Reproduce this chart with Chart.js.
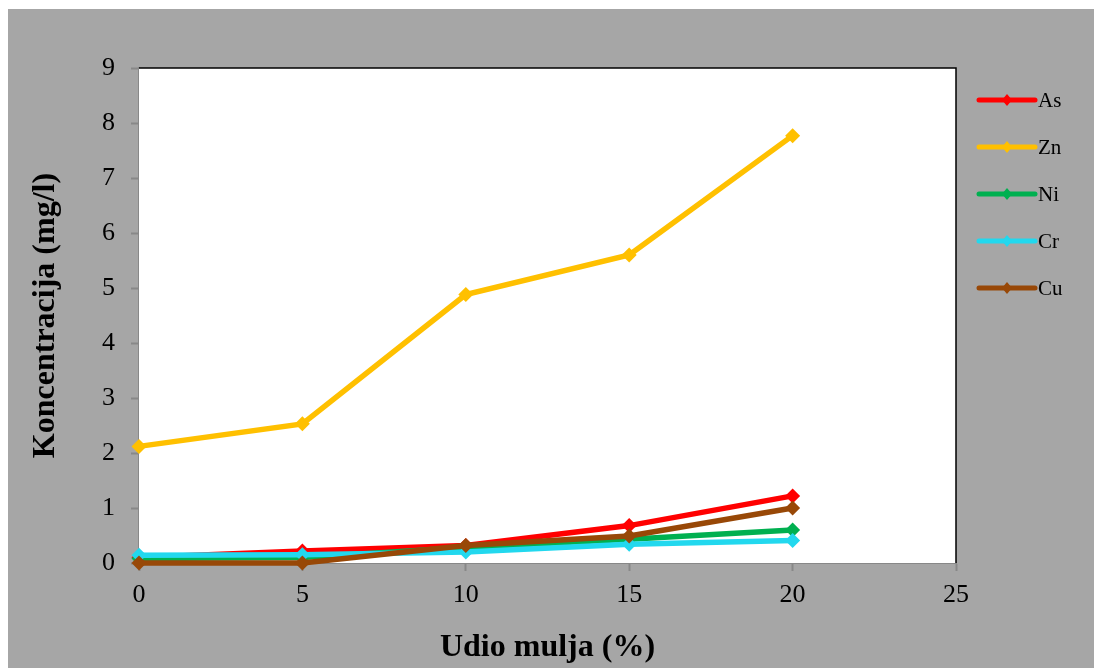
<!DOCTYPE html>
<html>
<head>
<meta charset="utf-8">
<script src="https://cdn.jsdelivr.net/npm/chart.js@4.4.0/dist/chart.umd.min.js"></script>
<style>
  html, body { margin: 0; padding: 0; background: #ffffff; }
  #wrap { position: absolute; left: 8px; top: 9px; width: 1086px; height: 659px; background: #a6a6a6; }
</style>
</head>
<body>
<div id="wrap"><canvas id="chart" width="1086" height="659"></canvas></div>
<script>
// udio mulja (%)
const udio = [0, 5, 10, 15, 20];

// koncentracije (mg/l)
const asVals = [0.10, 0.22, 0.32, 0.68, 1.22];
const znVals = [2.12, 2.53, 4.88, 5.60, 7.77];
const niVals = [0.08, 0.10, 0.28, 0.43, 0.60];
const crVals = [0.14, 0.15, 0.20, 0.34, 0.41];
const cuVals = [0.00, 0.00, 0.32, 0.49, 1.00];

const seriesNames = ['As', 'Zn', 'Ni', 'Cr', 'Cu'];
const seriesColors = ['#ff0000', '#ffc000', '#00b050', '#22d8ee', '#984807'];
const seriesValues = [asVals, znVals, niVals, crVals, cuVals];

const FONT = "'Liberation Serif', 'Times New Roman', serif";

function toPoints(vals) {
    return vals.map((v, i) => ({ x: udio[i], y: v }));
}

const datasets = seriesNames.map((name, i) => ({
    label: name,
    data: toPoints(seriesValues[i]),
    borderColor: seriesColors[i],
    backgroundColor: seriesColors[i],
    borderWidth: 5.5,
    pointStyle: 'rectRot',
    pointRadius: 7.5,
    pointBorderWidth: 0,
    tension: 0,
    clip: false,
    // kasnije serije crtaju se preko ranijih
    order: seriesNames.length - i
}));

// bijela pozadina i okvir područja grafikona (gore i desno crno)
const plotFrame = {
    id: 'plotFrame',
    beforeDatasetsDraw(chart) {
        const { ctx, chartArea: a } = chart;
        ctx.save();
        ctx.fillStyle = '#ffffff';
        ctx.fillRect(a.left, a.top, a.right - a.left, a.bottom - a.top);
        ctx.strokeStyle = '#000000';
        ctx.lineWidth = 1.5;
        ctx.beginPath();
        ctx.moveTo(a.left, a.top);
        ctx.lineTo(a.right, a.top);
        ctx.lineTo(a.right, a.bottom);
        ctx.stroke();
        ctx.restore();
    }
};

// legenda desno, linija s rombom
const sideLegend = {
    id: 'sideLegend',
    afterDraw(chart) {
        const { ctx } = chart;
        const x0 = 971, x1 = 1027, xm = 999, tx = 1030;
        ctx.save();
        chart.data.datasets.forEach((ds, i) => {
            const y = 91 + i * 47;
            ctx.strokeStyle = ds.borderColor;
            ctx.lineWidth = 5;
            ctx.lineCap = 'round';
            ctx.beginPath();
            ctx.moveTo(x0, y);
            ctx.lineTo(x1, y);
            ctx.stroke();
            ctx.fillStyle = ds.borderColor;
            ctx.beginPath();
            ctx.moveTo(xm, y - 6);
            ctx.lineTo(xm + 5, y);
            ctx.lineTo(xm, y + 6);
            ctx.lineTo(xm - 5, y);
            ctx.closePath();
            ctx.fill();
            ctx.fillStyle = '#000000';
            ctx.font = '21px ' + FONT;
            ctx.textAlign = 'left';
            ctx.textBaseline = 'middle';
            ctx.fillText(ds.label, tx, y + 1);
        });
        ctx.restore();
    }
};

new Chart(document.getElementById('chart'), {
    type: 'line',
    data: { datasets: datasets },
    options: {
        responsive: false,
        animation: false,
        layout: { padding: { left: 0, top: 59, right: 138, bottom: 0 } },
        plugins: {
            legend: { display: false },
            tooltip: { enabled: false }
        },
        scales: {
            x: {
                type: 'linear',
                min: 0,
                max: 25,
                afterFit(scale) { scale.height = 105; },
                ticks: {
                    stepSize: 5,
                    color: '#000000',
                    padding: 9,
                    font: { family: FONT, size: 26 }
                },
                grid: {
                    display: true,
                    drawOnChartArea: false,
                    drawTicks: true,
                    tickLength: 8,
                    tickColor: '#888888',
                    tickWidth: 2
                },
                border: { color: '#888888', width: 2 },
                title: {
                    display: true,
                    text: 'Udio mulja (%)',
                    color: '#000000',
                    padding: { top: 0, bottom: 1 },
                    font: { family: FONT, size: 32, weight: 'bold' }
                }
            },
            y: {
                type: 'linear',
                min: 0,
                max: 9,
                afterFit(scale) { scale.width = 131; },
                ticks: {
                    stepSize: 1,
                    color: '#000000',
                    padding: 16,
                    font: { family: FONT, size: 26 }
                },
                grid: {
                    display: true,
                    drawOnChartArea: false,
                    drawTicks: true,
                    tickLength: 8,
                    tickColor: '#888888',
                    tickWidth: 2
                },
                border: { color: '#888888', width: 2 },
                title: {
                    display: true,
                    text: 'Koncentracija (mg/l)',
                    color: '#000000',
                    padding: { top: 19, bottom: 0 },
                    font: { family: FONT, size: 32, weight: 'bold' }
                }
            }
        }
    },
    plugins: [plotFrame, sideLegend]
});
</script>
</body>
</html>
